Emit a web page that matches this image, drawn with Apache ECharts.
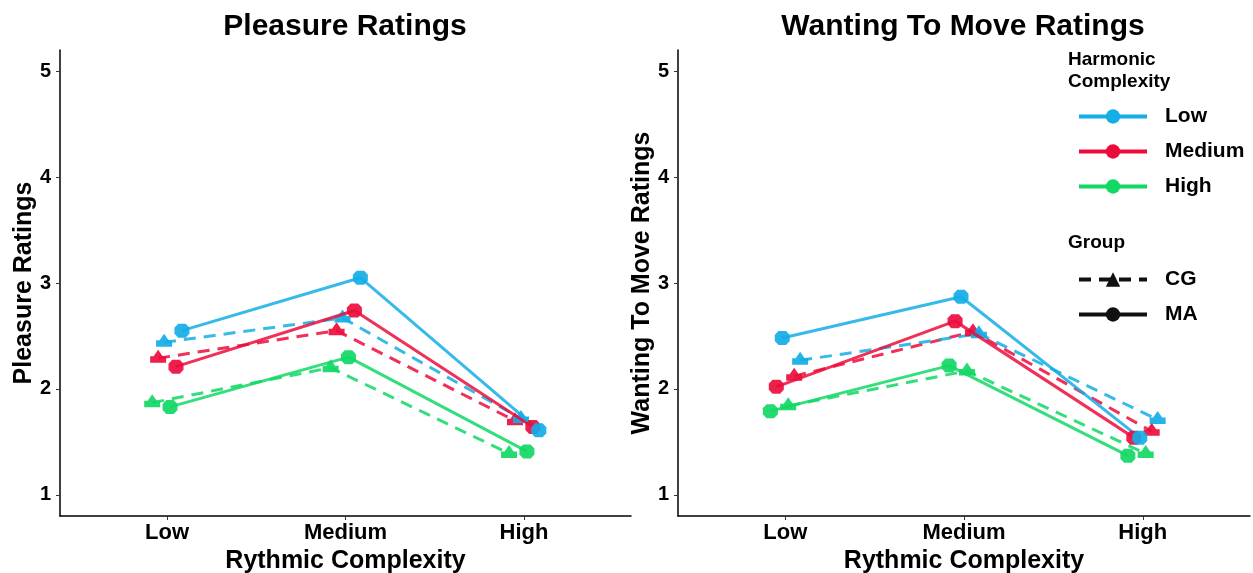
<!DOCTYPE html>
<html>
<head>
<meta charset="utf-8">
<script src="https://cdn.jsdelivr.net/npm/echarts@6/dist/echarts.min.js"></script>
<style>
  html, body { margin: 0; padding: 0; background: #fff; }
  #chart { width: 1253px; height: 573px; }
</style>
</head>
<body>
<div id="chart"></div>
<script>
'use strict';
// x categories (rhythmic complexity) and y ticks
const rhythm = ['Low', 'Medium', 'High'];
const yTicks = [1, 2, 3, 4, 5];

// Pleasure ratings, per harmonic complexity level, by rhythmic complexity
const pleasureMA_Low = [2.55, 3.05, 1.61];
const pleasureMA_Medium = [2.21, 2.74, 1.64];
const pleasureMA_High = [1.83, 2.30, 1.41];
const pleasureCG_Low = [2.44, 2.67, 1.72];
const pleasureCG_Medium = [2.29, 2.55, 1.70];
const pleasureCG_High = [1.87, 2.20, 1.39];

// Wanting to move ratings
const wantMA_Low = [2.48, 2.87, 1.54];
const wantMA_Medium = [2.02, 2.64, 1.54];
const wantMA_High = [1.79, 2.22, 1.37];
const wantCG_Low = [2.27, 2.52, 1.71];
const wantCG_Medium = [2.12, 2.54, 1.60];
const wantCG_High = [1.84, 2.17, 1.39];

const colors = { Low: '#14ADE6', Medium: '#EC0C3C', High: '#12D865' };
const FONT = 'Liberation Sans';

// marker shapes: point with its (short) error bar caps merged in
const circleMark = 'path://M4 0 H12 L16 4 V10 L12 14 H4 L0 10 V4 Z';
const triMark = 'path://M8 0 L12.5 6 H16 V12 H0 V6 H3.5 Z';

const DODGE = 0.2;
function makeSeries(panel, group, level, values, slot) {
  const off = (slot - 2.5) * DODGE / 6;
  const cg = group === 'CG';
  return {
    type: 'line',
    name: group + ' ' + level,
    xAxisIndex: panel,
    yAxisIndex: panel,
    data: values.map((v, i) => [i + 1 + off, v]),
    symbol: cg ? triMark : circleMark,
    symbolSize: cg ? [16, 13] : [15, 14],
    symbolOffset: cg ? [0, -2] : [0, 0],
    showSymbol: true,
    lineStyle: { color: colors[level], width: 3, type: cg ? [12, 8] : 'solid', opacity: 0.85 },
    itemStyle: { color: colors[level], opacity: 0.92 },
    emphasis: { disabled: true },
    z: cg ? 2 : 3
  };
}

const series = [
  makeSeries(0, 'CG', 'High', pleasureCG_High, 0),
  makeSeries(0, 'CG', 'Medium', pleasureCG_Medium, 1),
  makeSeries(0, 'CG', 'Low', pleasureCG_Low, 2),
  makeSeries(0, 'MA', 'High', pleasureMA_High, 3),
  makeSeries(0, 'MA', 'Medium', pleasureMA_Medium, 4),
  makeSeries(0, 'MA', 'Low', pleasureMA_Low, 5),
  makeSeries(1, 'MA', 'High', wantMA_High, 0),
  makeSeries(1, 'MA', 'Medium', wantMA_Medium, 1),
  makeSeries(1, 'MA', 'Low', wantMA_Low, 2),
  makeSeries(1, 'CG', 'High', wantCG_High, 3),
  makeSeries(1, 'CG', 'Medium', wantCG_Medium, 4),
  makeSeries(1, 'CG', 'Low', wantCG_Low, 5)
];

// empty series that only feed the two legends
['Low', 'Medium', 'High'].forEach(l => series.push({
  type: 'line', name: l, xAxisIndex: 1, yAxisIndex: 1, data: [],
  symbol: 'circle', lineStyle: { color: colors[l], width: 4 }, itemStyle: { color: colors[l] }
}));
series.push({
  type: 'line', name: 'CG', xAxisIndex: 1, yAxisIndex: 1, data: [],
  symbol: 'triangle', lineStyle: { color: '#111', width: 4, type: [12, 8] }, itemStyle: { color: '#111' }
});
series.push({
  type: 'line', name: 'MA', xAxisIndex: 1, yAxisIndex: 1, data: [],
  symbol: 'circle', lineStyle: { color: '#111', width: 4 }, itemStyle: { color: '#111' }
});

function xAxis(grid) {
  return {
    type: 'value', gridIndex: grid, min: 0.4, max: 3.6,
    name: 'Rythmic Complexity', nameLocation: 'middle', nameGap: 29,
    nameTextStyle: { fontFamily: FONT, fontWeight: 'bold', fontSize: 25, color: '#000' },
    splitLine: { show: false },
    axisLine: { lineStyle: { color: '#000', width: 1.5 } },
    axisTick: { customValues: [1, 2, 3], length: 4, lineStyle: { color: '#333' } },
    axisLabel: {
      customValues: [1, 2, 3], margin: 6,
      formatter: v => rhythm[Math.round(v) - 1],
      fontFamily: FONT, fontWeight: 'bold', fontSize: 22, color: '#000'
    }
  };
}
function yAxis(grid, name, gap) {
  return {
    type: 'value', gridIndex: grid, min: 0.8, max: 5.2,
    name: name, nameLocation: 'middle', nameGap: gap, nameMoveOverlap: false,
    nameTextStyle: { fontFamily: FONT, fontWeight: 'bold', fontSize: 25, color: '#000' },
    splitLine: { show: false },
    axisLine: { show: true, lineStyle: { color: '#000', width: 1.5 } },
    axisTick: { show: true, customValues: yTicks, length: 4, lineStyle: { color: '#333' } },
    axisLabel: {
      customValues: yTicks, margin: 9,
      fontFamily: FONT, fontWeight: 'bold', fontSize: 20, color: '#000'
    }
  };
}

const legendText = { fontFamily: FONT, fontWeight: 'bold', fontSize: 21, color: '#000', lineHeight: 20, padding: [0, 0, 0, 13] };
const legendBase = {
  orient: 'vertical', left: 1077, padding: 0, itemWidth: 68, itemHeight: 18, itemGap: 14,
  textStyle: legendText, selectedMode: false, lineStyle: { width: 4 }
};

const option = {
  animation: false,
  backgroundColor: '#fff',
  grid: [
    { left: 60, right: 622, top: 50, bottom: 57, containLabel: false, outerBoundsMode: 'none' },
    { left: 678, right: 3, top: 50, bottom: 57, containLabel: false, outerBoundsMode: 'none' }
  ],
  xAxis: [xAxis(0), xAxis(1)],
  yAxis: [yAxis(0, 'Pleasure Ratings', 23), yAxis(1, 'Wanting To Move Ratings', 23)],
  legend: [
    Object.assign({ data: ['Low', 'Medium', 'High'], top: 106 }, legendBase),
    Object.assign({ data: ['CG', 'MA'], top: 269 }, legendBase)
  ],
  graphic: [
    { type: 'text', x: 345, y: 27, style: { text: 'Pleasure Ratings', font: 'bold 30px "Liberation Sans"', fill: '#000', align: 'center', verticalAlign: 'middle' } },
    { type: 'text', x: 963, y: 27, style: { text: 'Wanting To Move Ratings', font: 'bold 30px "Liberation Sans"', fill: '#000', align: 'center', verticalAlign: 'middle' } },
    { type: 'text', x: 1068, y: 49, style: { text: 'Harmonic\nComplexity', font: 'bold 19px "Liberation Sans"', fill: '#000', lineHeight: 22 } },
    { type: 'text', x: 1068, y: 233, style: { text: 'Group', font: 'bold 19px "Liberation Sans"', fill: '#000' } }
  ],
  series: series
};

const chart = echarts.init(document.getElementById('chart'), null, { renderer: 'canvas' });
chart.setOption(option);
</script>
</body>
</html>
